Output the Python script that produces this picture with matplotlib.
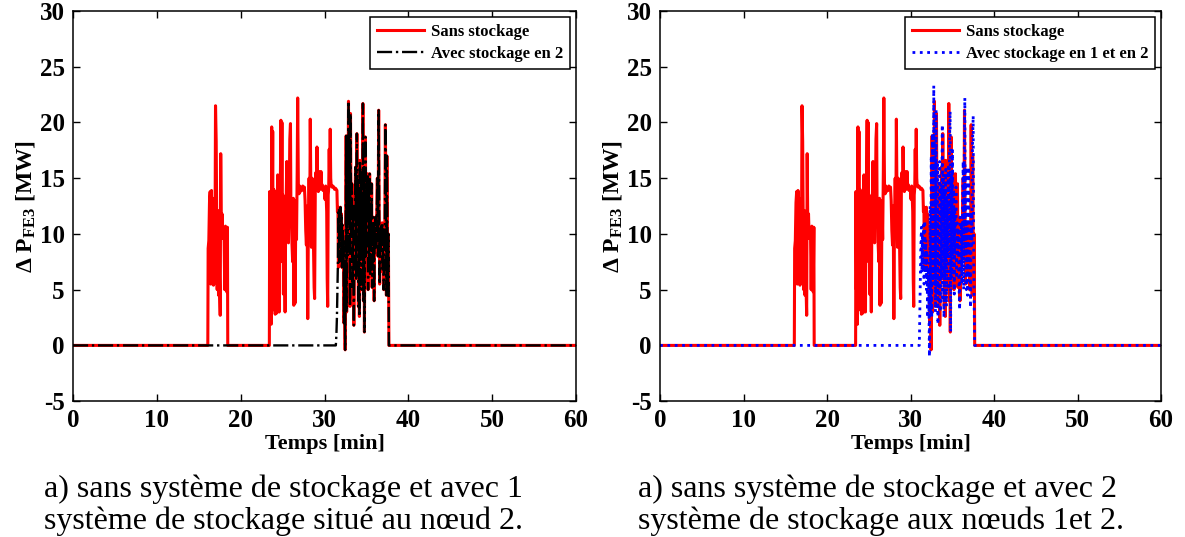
import matplotlib
matplotlib.use("Agg")
import matplotlib.pyplot as plt

plt.rcParams['font.family'] = ['Liberation Serif', 'DejaVu Serif']
plt.rcParams['mathtext.fontset'] = 'custom'
plt.rcParams['mathtext.rm'] = 'Liberation Serif'
plt.rcParams['mathtext.bf'] = 'Liberation Serif:bold'
plt.rcParams['mathtext.it'] = 'Liberation Serif:italic'
plt.rcParams['axes.unicode_minus'] = False

# --- data: (temps [min], delta P [MW]) ---
red_burst1 = [(0, 0), (16.08, 0), (16.12, 8.7), (16.2, 9.4), (16.28, 12.8), (16.36, 13.8),
              (16.44, 5.5), (16.52, 13.9), (16.6, 6.0), (16.68, 13.2), (16.76, 5.4),
              (16.84, 12.9), (16.92, 5.6), (17.0, 21.5), (17.08, 18.3), (17.14, 11.0),
              (17.2, 5.0), (17.28, 12.1), (17.36, 4.5), (17.44, 7.9), (17.5, 4.7),
              (17.56, 2.7), (17.62, 17.2), (17.7, 9.9), (17.78, 11.8), (17.86, 9.6),
              (17.94, 10.3), (18.02, 10.0), (18.1, 5.0), (18.18, 10.7), (18.26, 10.4),
              (18.34, 4.8), (18.42, 10.6), (18.46, 0)]

red_burst2 = [(23.42, 0), (23.46, 13.8), (23.52, 5.0), (23.58, 13.5), (23.64, 1.9), (23.7, 19.6),
              (23.76, 9.5), (23.82, 19.2), (23.88, 3.2), (23.94, 14.0), (24.0, 8.5), (24.06, 13.8),
              (24.12, 2.8), (24.18, 11.0), (24.24, 4.0), (24.3, 2.9), (24.36, 13.0), (24.42, 15.3),
              (24.48, 9.3), (24.54, 14.0), (24.6, 3.0), (24.66, 12.5), (24.72, 13.6), (24.8, 20.2),
              (24.86, 9.5), (24.92, 20.0), (24.98, 7.5), (25.04, 13.5), (25.1, 4.6), (25.16, 12.0),
              (25.22, 9.0), (25.3, 3.0), (25.36, 10.5), (25.42, 12.8), (25.5, 16.5), (25.56, 10.0),
              (25.62, 14.2), (25.7, 9.2), (25.78, 12.5), (25.86, 18.5), (25.94, 19.9), (26.0, 11.0),
              (26.06, 13.0), (26.12, 9.1), (26.2, 7.5), (26.28, 13.2), (26.34, 3.6), (26.42, 11.8),
              (26.5, 3.8), (26.58, 13.0), (26.66, 9.5), (26.74, 15.5), (26.8, 22.2), (26.88, 14.5),
              (26.96, 13.6), (27.04, 14.3), (27.12, 13.8), (27.2, 14.1), (27.3, 13.9), (27.4, 14.3),
              (27.5, 14.0), (27.6, 14.2), (27.68, 13.0), (27.76, 10.3), (27.84, 9.0), (27.92, 12.5),
              (28.0, 2.4), (28.08, 11.5), (28.16, 15.0), (28.24, 11.3), (28.3, 20.3), (28.38, 13.0),
              (28.44, 8.8), (28.52, 15.0), (28.6, 12.0), (28.68, 9.2), (28.76, 5.2), (28.82, 4.2),
              (28.9, 13.8), (28.96, 15.5), (29.04, 14.0), (29.1, 17.8), (29.18, 14.5), (29.26, 13.8),
              (29.34, 15.6), (29.42, 14.2), (29.5, 14.0), (29.58, 15.6), (29.66, 14.1), (29.74, 14.4),
              (29.82, 13.9), (29.9, 14.2), (29.98, 14.0), (30.06, 13.1), (30.14, 14.3), (30.2, 13.3),
              (30.26, 12.0), (30.32, 6.0), (30.38, 3.5), (30.44, 13.5), (30.5, 14.1), (30.56, 17.6),
              (30.62, 14.5), (30.68, 19.4), (30.74, 15.0), (30.8, 14.3), (30.9, 14.2), (31.0, 14.3),
              (31.1, 14.2), (31.2, 14.0), (31.3, 14.1), (31.4, 14.0), (31.48, 13.9)]

red_burst3 = [(31.54, 12.0), (31.6, 12.4), (31.66, 7.0), (31.72, 12.3), (31.78, 7.5), (31.84, 11.5),
              (31.9, 12.4), (31.96, 8.0), (32.02, 11.8), (32.08, 7.0), (32.14, 10.8), (32.2, 8.0),
              (32.26, 9.5), (32.32, 2.0), (32.38, 7.5), (32.46, -0.4), (32.52, 8.0), (32.58, 18.8),
              (32.64, 3.0), (32.7, 18.0), (32.78, 8.0), (32.86, 21.9), (32.92, 12.0), (32.98, 18.5),
              (33.04, 3.5), (33.1, 20.8), (33.18, 10.0), (33.26, 14.5), (33.34, 5.0), (33.42, 12.5),
              (33.5, 1.8), (33.56, 10.0), (33.62, 12.0), (33.7, 16.0), (33.78, 6.0), (33.86, 19.0),
              (33.92, 11.0), (33.98, 15.0), (34.04, 3.5), (34.1, 13.0), (34.16, 2.6), (34.22, 16.6),
              (34.28, 8.0), (34.34, 15.5), (34.4, 5.0), (34.46, 13.5), (34.52, 9.0), (34.58, 21.7),
              (34.64, 4.0), (34.7, 16.0), (34.76, 1.2), (34.82, 12.0), (34.88, 18.7), (34.94, 8.0),
              (35.0, 14.5), (35.06, 12.5), (35.12, 15.4), (35.2, 5.0), (35.26, 13.5), (35.32, 8.0),
              (35.38, 15.4), (35.44, 6.2), (35.5, 12.5), (35.56, 8.5), (35.62, 14.5), (35.68, 5.2),
              (35.74, 11.0), (35.8, 8.0), (35.86, 11.5), (35.92, 4.0), (35.98, 10.5), (36.04, 8.5),
              (36.1, 11.5), (36.16, 9.0), (36.22, 11.3), (36.3, 15.0), (36.38, 8.0), (36.46, 21.1),
              (36.52, 12.0), (36.58, 5.5), (36.64, 10.5), (36.7, 8.5), (36.76, 10.7), (36.82, 9.0),
              (36.88, 11.0), (36.94, 6.6), (37.0, 10.0), (37.06, 5.0), (37.12, 10.5), (37.18, 8.5),
              (37.26, 19.8), (37.32, 13.0), (37.38, 4.5), (37.44, 17.0), (37.5, 10.0), (37.56, 4.6),
              (37.62, 10.0), (37.68, 0.0), (60, 0)]

# storage at node 2: flat, short ramp, then same as without storage
black_ramp = [(0, 0), (31.35, 0), (31.42, 1.0), (31.48, 2.5), (31.54, 5.0), (31.6, 7.5), (31.66, 12.3)]

# storage at nodes 1 and 2
blue_pts = [(0, 0), (31.05, 0), (31.15, 4.9), (31.22, 8.5), (31.3, 10.6), (31.36, 6.5), (31.42, 10.0),
            (31.5, 7.0), (31.56, 10.8), (31.62, 5.5), (31.7, 11.2), (31.78, 6.5), (31.84, 9.5),
            (31.9, 5.0), (31.96, 8.5), (32.04, 2.5), (32.1, 7.0), (32.18, 5.0), (32.26, -1.0),
            (32.34, 12.5), (32.4, 3.0), (32.48, 17.0), (32.54, 2.5), (32.62, 19.0), (32.7, 6.0),
            (32.78, 23.3), (32.84, 5.5), (32.92, 18.0), (32.98, 3.0), (33.06, 21.1), (33.12, 4.5),
            (33.2, 16.5), (33.28, 1.9), (33.36, 12.0), (33.42, 4.0), (33.5, 16.5), (33.56, 3.0),
            (33.64, 14.5), (33.7, 6.0), (33.8, 19.8), (33.86, 4.0), (33.94, 15.4), (34.0, 2.5),
            (34.08, 14.0), (34.14, 6.5), (34.22, 15.8), (34.3, 3.5), (34.38, 13.0), (34.44, 8.0),
            (34.52, 16.0), (34.58, 5.0), (34.66, 18.0), (34.74, 21.0), (34.8, 1.2), (34.88, 15.5),
            (34.94, 6.0), (35.02, 17.5), (35.1, 8.0), (35.16, 14.0), (35.24, 4.6), (35.3, 12.0),
            (35.36, 8.5), (35.44, 14.2), (35.5, 6.0), (35.58, 11.0), (35.64, 8.0), (35.72, 10.5),
            (35.8, 5.5), (35.88, 3.2), (35.94, 11.5), (36.0, 6.5), (36.08, 11.0), (36.14, 5.5),
            (36.22, 12.0), (36.3, 16.5), (36.36, 5.0), (36.44, 18.0), (36.5, 22.2), (36.56, 8.0),
            (36.62, 16.0), (36.68, 5.0), (36.76, 11.0), (36.82, 4.5), (36.9, 10.5), (36.96, 16.0),
            (37.04, 6.0), (37.1, 10.0), (37.18, 3.4), (37.26, 12.0), (37.34, 9.0), (37.42, 18.0),
            (37.5, 20.6), (37.56, 8.0), (37.62, 3.4), (37.68, 0.0), (60, 0)]

xticks = [0, 10, 20, 30, 40, 50, 60]
yticks = [-5, 0, 5, 10, 15, 20, 25, 30]
legend_labels = [["Sans stockage", "Avec stockage en 2"],
                 ["Sans stockage", "Avec stockage en 1 et en 2"]]
captions = [["a) sans système de stockage et avec 1", "système de stockage situé au nœud 2."],
            ["a) sans système de stockage et avec 2", "système de stockage aux nœuds 1et 2."]]


def split(pts):
    return [p[0] for p in pts], [p[1] for p in pts]


red_t, red_v = split(red_burst1 + red_burst2 + red_burst3)
black_t, black_v = split(black_ramp + [p for p in red_burst3 if p[0] > black_ramp[-1][0]])
blue_t, blue_v = split(blue_pts)


def style_axes(ax):
    ax.set_xlim(0, 60)
    ax.set_ylim(-5, 30)
    ax.set_xticks(xticks)
    ax.set_yticks(yticks)
    ax.tick_params(direction='in', top=True, right=True, length=5, width=1,
                   labelsize=18, pad=6)
    for lab in ax.get_xticklabels() + ax.get_yticklabels():
        lab.set_fontweight('bold')
    for s in ax.spines.values():
        s.set_linewidth(1.1)
    ax.set_xlabel("Temps [min]", fontsize=16, fontweight='bold', labelpad=1)
    ax.set_ylabel(r"Δ $\mathbf{P_{FE3}}$ [MW]", fontsize=17, fontweight='bold', labelpad=2)


fig = plt.figure(figsize=(11.85, 5.37), dpi=100)
ax1 = fig.add_axes([0.0616, 0.253, 0.4245, 0.7265])
ax2 = fig.add_axes([0.557, 0.253, 0.4228, 0.7265])

ax1.plot(red_t, red_v, color='red', lw=2.2, label=legend_labels[0][0])
ax1.plot(black_t, black_v, color='black', lw=1.7, ls='-.', label=legend_labels[0][1])

ax2.plot(red_t, red_v, color='red', lw=2.2, label=legend_labels[1][0])
ax2.plot(blue_t, blue_v, color='blue', lw=2.0, ls=':', label=legend_labels[1][1])

for ax in (ax1, ax2):
    style_axes(ax)
    leg = ax.legend(loc='upper right', fancybox=False, framealpha=1, edgecolor='black',
                    prop={'weight': 'bold', 'size': 12}, handlelength=2.8,
                    handletextpad=0.45, borderaxespad=0.35, labelspacing=0.4,
                    borderpad=0.4)
    leg.get_frame().set_linewidth(1.1)

for i, x0 in enumerate([44, 638]):
    fig.text(x0 / 1185, 1 - 497 / 537, captions[i][0], fontsize=23)
    fig.text(x0 / 1185, 1 - 529 / 537, captions[i][1], fontsize=23)

fig.savefig("out.png", dpi=100)
